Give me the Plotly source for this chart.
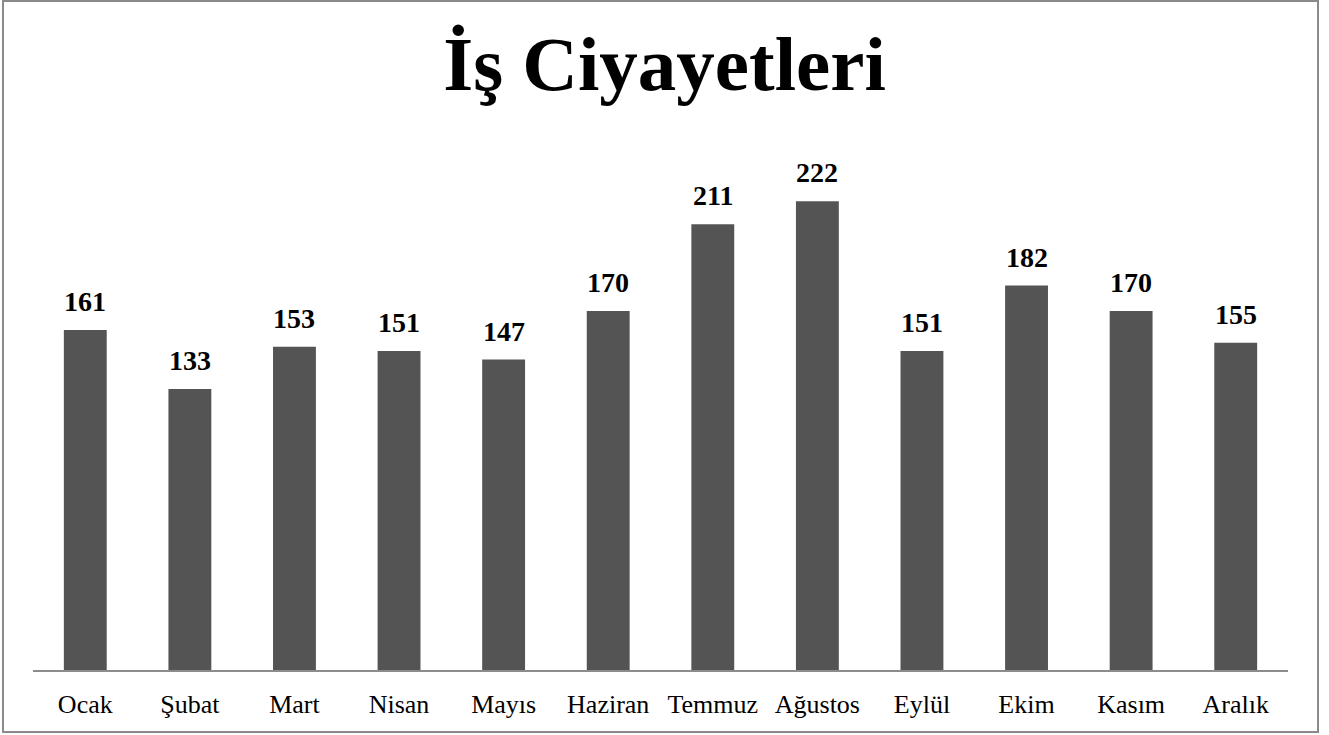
import plotly.graph_objects as go

months = ["Ocak", "Şubat", "Mart", "Nisan", "Mayıs", "Haziran",
          "Temmuz", "Ağustos", "Eylül", "Ekim", "Kasım", "Aralık"]
values = [161, 133, 153, 151, 147, 170, 211, 222, 151, 182, 170, 155]
title_text = "İş Ciyayetleri"

W, H = 1329, 735
ml, mr, mt, mb = 33, 41, 142, 65
ymax = 250

fig = go.Figure()
fig.add_trace(go.Bar(
    x=months, y=values,
    marker=dict(color="#545454", line=dict(width=0)),
    hoverinfo="x+y",
))

for m, v in zip(months, values):
    fig.add_annotation(x=m, y=v, text=f"<b>{v}</b>", showarrow=False,
                       yanchor="bottom", yshift=11,
                       font=dict(family="Liberation Serif", size=28, color="#000"))

pw = W - ml - mr
ph = H - mt - mb
fig.add_shape(type="rect", xref="paper", yref="paper",
              x0=(3 - ml) / pw, x1=(1318 - ml) / pw,
              y0=(H - mb - 732) / ph, y1=(H - mb - 1) / ph,
              line=dict(color="#8a8a8a", width=2), fillcolor="rgba(0,0,0,0)",
              layer="below")

fig.update_layout(
    width=W, height=H,
    margin=dict(l=ml, r=mr, t=mt, b=mb),
    paper_bgcolor="white", plot_bgcolor="white",
    bargap=0.59,
    showlegend=False,
    title=dict(text=f"<b>{title_text}</b>", x=0.5, xanchor="center",
               y=1 - 63.5 / H, yanchor="middle",
               font=dict(family="Liberation Serif", size=77, color="#000")),
    xaxis=dict(showline=True, linecolor="#8c8c8c", linewidth=2,
               showgrid=False, ticks="", ticklabelstandoff=10,
               tickfont=dict(family="Liberation Serif", size=26, color="#000")),
    yaxis=dict(range=[0, ymax], visible=False, showgrid=False, zeroline=False),
)

fig.write_html("out.html",
               config={"displayModeBar": False},
               post_script="document.body.style.margin='0';document.body.style.overflow='hidden';")
